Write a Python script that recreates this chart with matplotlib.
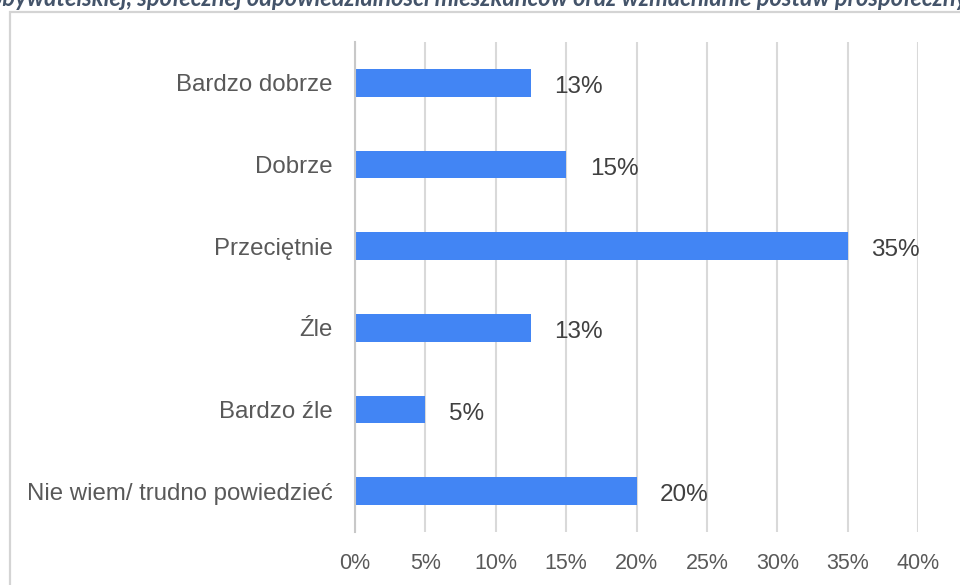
import matplotlib
matplotlib.use("Agg")
import matplotlib.pyplot as plt
from matplotlib.patches import Rectangle

categories = ["Bardzo dobrze", "Dobrze", "Przeciętnie", "Źle", "Bardzo źle", "Nie wiem/ trudno powiedzieć"]
values = [12.5, 15, 35, 12.5, 5, 20]
value_labels = ["13%", "15%", "35%", "13%", "5%", "20%"]
xticks = [0, 5, 10, 15, 20, 25, 30, 35, 40]
xtick_labels = ["0%", "5%", "10%", "15%", "20%", "25%", "30%", "35%", "40%"]
title_text = "obywatelskiej, społecznej odpowiedzialności mieszkańców oraz wzmacnianie postaw prospołecznych"

plt.rcParams['font.family'] = ['Liberation Sans', 'DejaVu Sans']

W, H = 960, 585
fig = plt.figure(figsize=(W / 100, H / 100), dpi=100)
fig.patch.set_facecolor("white")

ax = fig.add_axes([355 / W, 1 - 532 / H, (918 - 355) / W, (532 - 42) / H])
ypos = list(range(len(categories)))
ax.barh(ypos, values, height=0.34, color="#4285F4", zorder=3)
ax.set_ylim(len(categories) - 0.5, -0.5)
ax.set_xlim(0, 40)
ax.set_xticks(xticks)
ax.set_xticklabels(xtick_labels, fontsize=15.5, color="#595959")
ax.set_yticks(ypos)
ax.set_yticklabels(categories, fontsize=17.3, color="#595959")
ax.tick_params(axis="y", length=0, pad=16)
ax.tick_params(axis="x", length=0, pad=15)
ax.grid(axis="x", color="#d9d9d9", lw=1.5, zorder=0)
for s in ["top", "right", "bottom"]:
    ax.spines[s].set_visible(False)
ax.spines["left"].set_color("#c8c8c8")
ax.spines["left"].set_linewidth(1.5)
ax.spines["left"].set_zorder(4)

for y, v, lab in zip(ypos, values, value_labels):
    ax.annotate(lab, (v, y), xytext=(17, -3), textcoords="offset points",
                va="center", ha="left", fontsize=17.5, color="#404040")

# outer frame
fig.patches.append(Rectangle((10 / W, -0.1), 1.2, (H - 12) / H + 0.1,
                             transform=fig.transFigure, fill=False,
                             edgecolor="#d4d4d4", lw=1.6, zorder=0))

# cut-off title at top
t = fig.text(-10 / W, 1 - 6 / H, title_text, ha="left", va="baseline",
             fontsize=17, fontweight="bold", fontstyle="italic",
             color="#44546A", family=["Lato", "DejaVu Sans"])

fig.savefig("out.png", dpi=100, facecolor="white")
